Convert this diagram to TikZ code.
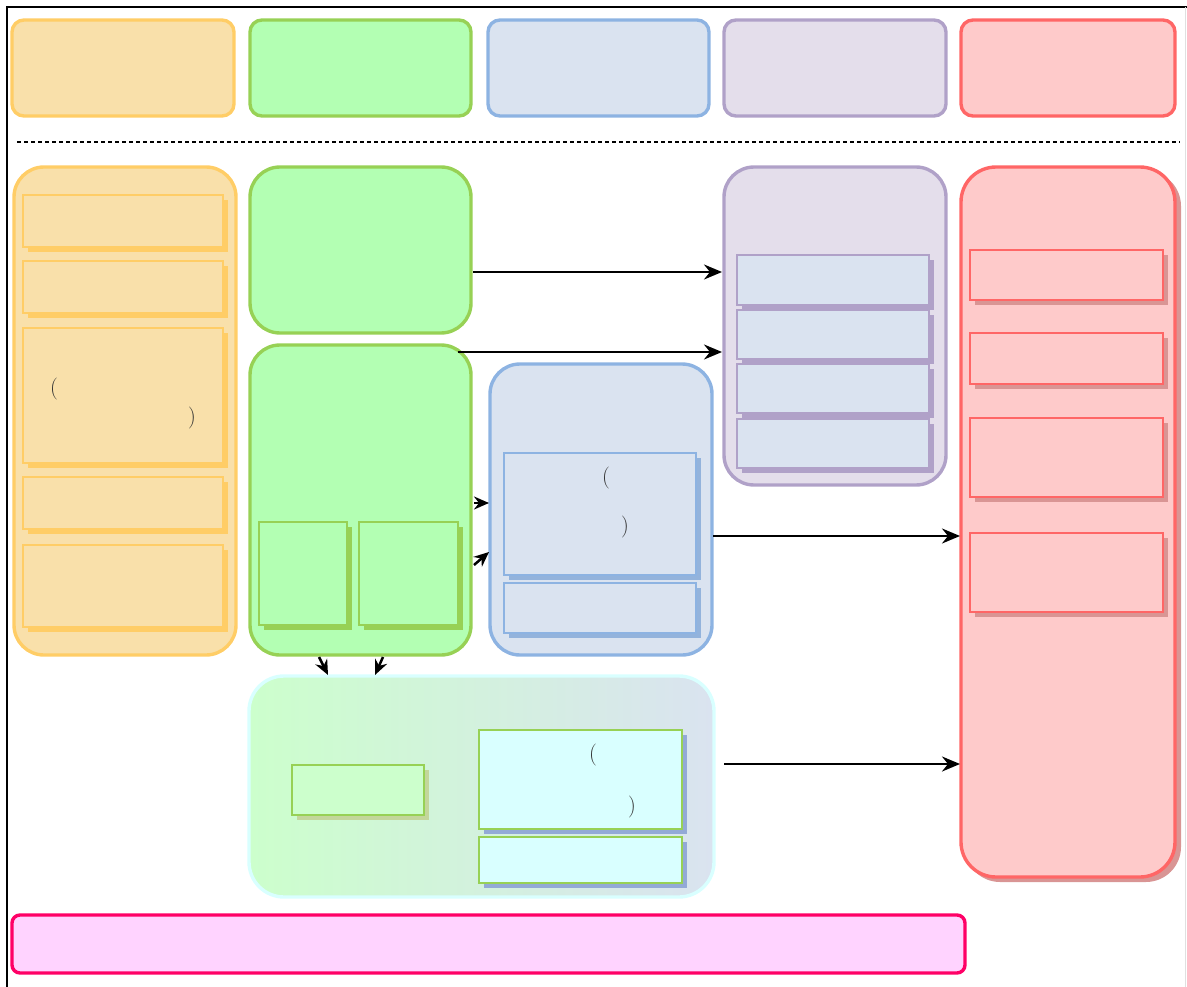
\documentclass[tikz,border=0pt]{standalone}
\usetikzlibrary{arrows.meta}
\definecolor{orF}{HTML}{F9E0AA}\definecolor{orD}{HTML}{FFCD66}
\definecolor{grF}{HTML}{B3FFB3}\definecolor{grD}{HTML}{97D155}
\definecolor{blF}{HTML}{DAE3F0}\definecolor{blD}{HTML}{8DB3E2}\definecolor{blS}{HTML}{93B3DC}
\definecolor{puF}{HTML}{E4DEEB}\definecolor{puD}{HTML}{B0A1C8}
\definecolor{reF}{HTML}{FECACA}\definecolor{reD}{HTML}{FF6666}\definecolor{reS}{HTML}{D99594}
\definecolor{lgF}{HTML}{CCFFCC}\definecolor{cyF}{HTML}{D9FFFF}\definecolor{olS}{HTML}{C3D69B}
\definecolor{cyS}{HTML}{93AAD6}
\definecolor{pkF}{HTML}{FFD3FF}\definecolor{pkD}{HTML}{FF0066}
\tikzset{
  hdr/.style={line width=3.4pt, rounded corners=12pt},
  grp/.style={line width=3.4pt, rounded corners=30pt},
  inr/.style={line width=2.5pt},
  arr/.style={line width=2.5pt, -{Stealth[length=18pt,width=15pt,inset=6pt]}},
  sarr/.style={line width=2.5pt, -{Stealth[length=15pt,width=13pt,inset=5pt]}},
  par/.style={inner sep=0pt, font=\fontsize{22}{22}\selectfont, text=black!80},
}
\newcommand{\shbox}[7]{%
  \fill[\shcol] (#2+5,#3+5) rectangle (#4+5,#5+5);
  \draw[inr, fill=#6, draw=#7] (#2,#3) rectangle (#4,#5);
  \coordinate (#1) at ({(#2+#4)/2},{(#3+#5)/2});
}
\begin{document}
\begin{tikzpicture}[x=1pt,y=-1pt]
\useasboundingbox (0,0) rectangle (1187,987);
% frame
\draw[line width=1.8pt] (7,990) -- (7,7) -- (1190,7);
\draw[line width=1pt, black!12] (1185,7) -- (1185,990);
% header boxes
\draw[hdr, fill=orF, draw=orD] (12,20) rectangle (234,116);
\draw[hdr, fill=grF, draw=grD] (250,20) rectangle (471,116);
\draw[hdr, fill=blF, draw=blD] (488,20) rectangle (709,116);
\draw[hdr, fill=puF, draw=puD] (724,20) rectangle (946,116);
\draw[hdr, fill=reF, draw=reD] (961,20) rectangle (1175,116);
% dashed separator
\coordinate (sepL) at (17,142); \coordinate (sepR) at (1180,142);
\draw[line width=1.2pt, dash pattern=on 4pt off 3pt] (sepL) -- (sepR);
% left orange column
\draw[grp, fill=orF, draw=orD] (14,167) rectangle (236,655);
\def\shcol{orD}
\shbox{o1}{23}{195}{223}{247}{orF}{orD}
\shbox{o2}{23}{261}{223}{313}{orF}{orD}
\shbox{o3}{23}{328}{223}{463}{orF}{orD}
\shbox{o4}{23}{477}{223}{529}{orF}{orD}
\shbox{o5}{23}{545}{223}{627}{orF}{orD}
\node[par] (o3a) at (54,389) {(};
\node[par] (o3b) at (192,418) {)};
% green boxes
\draw[grp, fill=grF, draw=grD] (250,167) rectangle (471,333);
\draw[grp, fill=grF, draw=grD] (250,345) rectangle (471,655);
\def\shcol{grD}
\shbox{g1}{259}{522}{347}{625}{grF}{grD}
\shbox{g2}{359}{522}{458}{625}{grF}{grD}
% blue box
\draw[grp, fill=blF, draw=blD] (490,364) rectangle (712,655);
\def\shcol{blS}
\shbox{b1}{504}{453}{696}{575}{blF}{blD}
\shbox{b2}{504}{583}{696}{633}{blF}{blD}
\node[par] (b1a) at (606,478) {(};
\node[par] (b1b) at (625,527) {)};
% purple box
\draw[grp, fill=puF, draw=puD] (724,167) rectangle (946,485);
\def\shcol{puD}
\shbox{p1}{737}{255}{929}{305}{blF}{puD}
\shbox{p2}{737}{310}{929}{359}{blF}{puD}
\shbox{p3}{737}{364}{929}{413}{blF}{puD}
\shbox{p4}{737}{419}{929}{468}{blF}{puD}
% red column
\fill[reS, rounded corners=35pt] (965,171) rectangle (1181,882);
\draw[line width=3.4pt, rounded corners=35pt, fill=reF, draw=reD] (961,167) rectangle (1175,877);
\def\shcol{reS}
\shbox{r1}{970}{250}{1163}{300}{reF}{reD}
\shbox{r2}{970}{333}{1163}{384}{reF}{reD}
\shbox{r3}{970}{418}{1163}{497}{reF}{reD}
\shbox{r4}{970}{533}{1163}{612}{reF}{reD}
% gradient box
\draw[line width=3.4pt, rounded corners=35pt, draw=cyF, left color=lgF, right color=blF] (249,676) rectangle (714,897);
\def\shcol{olS}
\shbox{c1}{292}{765}{424}{815}{lgF}{grD}
\def\shcol{cyS}
\shbox{c2}{479}{730}{682}{829}{cyF}{grD}
\shbox{c3}{479}{837}{682}{883}{cyF}{grD}
\node[par] (c2a) at (593,755) {(};
\node[par] (c2b) at (632,807) {)};
% pink bar
\draw[line width=3.4pt, rounded corners=8pt, fill=pkF, draw=pkD] (12,915) rectangle (965,973);
% connectors
\coordinate (gAo) at (473,272); \coordinate (pIn1) at (722,272);
\coordinate (gBo) at (458,352); \coordinate (pIn2) at (722,352);
\coordinate (gBr1) at (474,503); \coordinate (bIn1) at (489,503);
\coordinate (gBr2) at (474,565); \coordinate (bIn2) at (489,552);
\coordinate (gBd1) at (319,657); \coordinate (cIn1) at (328,675);
\coordinate (gBd2) at (383,657); \coordinate (cIn2) at (375,675);
\coordinate (bOut) at (713,536); \coordinate (rIn1) at (960,536);
\coordinate (cOut) at (724,764); \coordinate (rIn2) at (960,764);
\draw[arr] (gAo) -- (pIn1);
\draw[arr] (gBo) -- (pIn2);
\draw[sarr] (gBr1) -- (bIn1);
\draw[sarr] (gBr2) -- (bIn2);
\draw[sarr] (gBd1) -- (cIn1);
\draw[sarr] (gBd2) -- (cIn2);
\draw[arr] (bOut) -- (rIn1);
\draw[arr] (cOut) -- (rIn2);
\end{tikzpicture}
\end{document}
